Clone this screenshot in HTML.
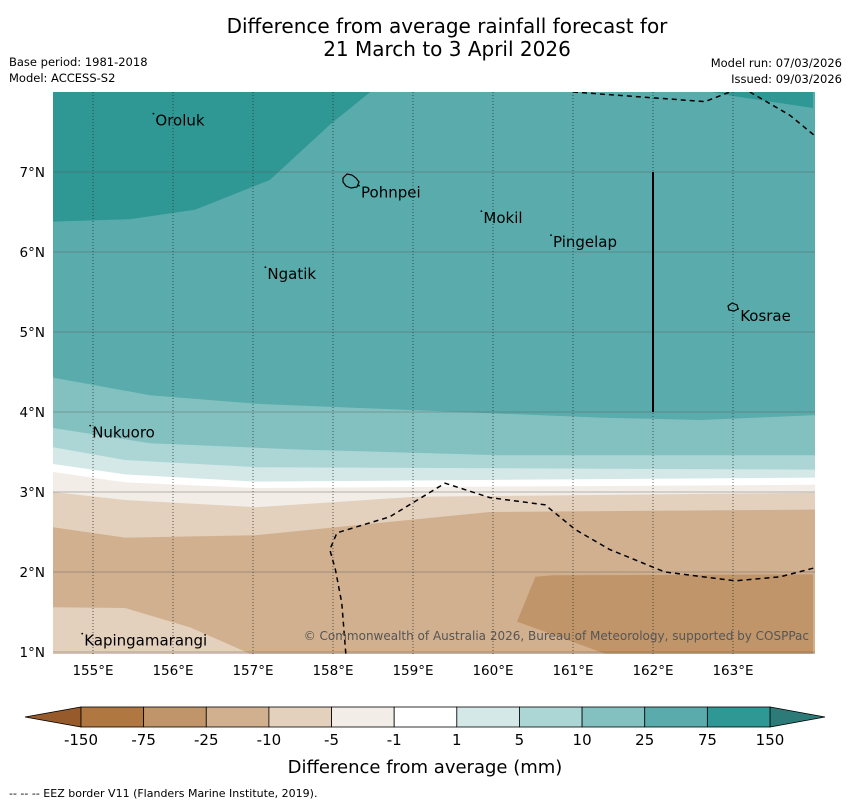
<!DOCTYPE html>
<html><head><meta charset="utf-8"><style>
html,body{margin:0;padding:0;background:#fff;width:850px;height:804px;overflow:hidden}
svg{display:block;font-family:"DejaVu Sans","Liberation Sans",sans-serif}
</style></head><body>
<svg id="chart" width="850" height="804" viewBox="0 0 850 804" xmlns="http://www.w3.org/2000/svg">
<text x="447" y="33" font-size="20" text-anchor="middle">Difference from average rainfall forecast for</text>
<text x="447" y="56" font-size="20" text-anchor="middle">21 March to 3 April 2026</text>
<text x="9" y="66" font-size="11.5">Base period: 1981-2018</text>
<text x="9" y="82" font-size="11.5">Model: ACCESS-S2</text>
<text x="842" y="67" font-size="11.5" text-anchor="end">Model run: 07/03/2026</text>
<text x="842" y="83" font-size="11.5" text-anchor="end">Issued: 09/03/2026</text>
<defs><clipPath id="mapclip"><rect x="53" y="92" width="762" height="562"/></clipPath></defs>
<g id="map" clip-path="url(#mapclip)"></g>
<g id="overlay"></g>
<g id="cbar"></g>
<text x="425" y="773" font-size="18" text-anchor="middle">Difference from average (mm)</text>
<text x="9" y="797" font-size="11">--  --  -- EEZ border V11 (Flanders Marine Institute, 2019).</text>
</svg>
<script>
const levels=["-150","-75","-25","-10","-5","-1","1","5","10","25","75","150"];
const bandColors=["#b07840","#c0956a","#d1b08f","#e3d0bd","#f2ede6","#ffffff","#d4e8e7","#acd6d5","#83c1c0","#5aabab","#309894"];
const lonTicks=[155,156,157,158,159,160,161,162,163];
const latTicks=[1,2,3,4,5,6,7];
const b1=[[154.5,4.43],[155.71,4.21],[157.09,4.1],[158.84,4.03],[161.34,3.93],[162.59,3.9],[164,3.96]];
const b2=[[154.5,3.8],[155.71,3.61],[157.59,3.53],[160.09,3.46],[164,3.46]];
const b3=[[154.5,3.56],[155.4,3.4],[157.03,3.31],[164,3.28]];
const b4=[[154.5,3.35],[155.4,3.22],[157.03,3.13],[164,3.18]];
const b5=[[154.5,3.25],[155.4,3.12],[157.03,3.05],[164,3.09]];
const b6=[[154.5,3.0],[155.4,2.9],[157.03,2.81],[159.03,2.94],[164,2.99]];
const b7=[[154.5,2.56],[155.4,2.43],[157.03,2.46],[159.96,2.75],[164,2.78]];
const lightPatch=[[154.5,1.56],[155.4,1.55],[156.21,1.31],[156.96,0.98],[154.5,0.98]];
const brownPatch=[[160.53,1.94],[160.75,1.96],[164,1.97],[164,0.98],[161.4,0.98],[160.3,1.38]];
const tealNW=[[154.5,6.38],[155.46,6.41],[156.28,6.53],[157.21,6.9],[157.96,7.59],[158.59,8.1],[154.5,8.1]];
const tealNE=[[162.2,8.1],[163.0,7.95],[164,7.8],[164,8.1]];
const eezMain=[[158.16,0.98],[158.11,1.61],[158.03,2.03],[157.96,2.28],[158.05,2.49],[158.71,2.69],[159.4,3.11],[159.96,2.93],[160.65,2.84],[161.03,2.53],[161.46,2.28],[162.15,2.0],[163.03,1.89],[163.59,1.94],[164.05,2.06]];
const eezTop1=[[161.0,8],[162.65,7.88],[162.96,8]];
const eezTop2=[[163.21,8],[163.71,7.71],[164.05,7.43]];
const places=["Oroluk","Pohnpei","Mokil","Pingelap","Ngatik","Kosrae","Nukuoro","Kapingamarangi"];
const placeLon=[155.78,158.35,159.88,160.75,157.18,163.09,154.99,154.89];
const placeLat=[7.58,6.68,6.36,6.06,5.66,5.14,3.68,1.08];
const NS="http://www.w3.org/2000/svg";
const X=lon=>53+(lon-154.5)*80;
const Y=lat=>92+(8-lat)*80;
const map=document.getElementById('map'),ov=document.getElementById('overlay'),cb=document.getElementById('cbar');
function mk(tag,attrs,parent){const e=document.createElementNS(NS,tag);for(const k in attrs)e.setAttribute(k,attrs[k]);parent.appendChild(e);return e;}
function pts(a){return a.map(p=>X(p[0]).toFixed(1)+","+Y(p[1]).toFixed(1)).join(" ");}
function below(b){return b.concat([[164.1,b[b.length-1][1]],[164.1,0.9],[154.4,0.9],[154.4,b[0][1]]]);}
let bg=mk('rect',{x:53,y:92,width:762,height:562,fill:bandColors[9]},map);


const seq=[[b1,8,'band-10-25'],[b2,7,'band-5-10'],[b3,6,'band-1-5'],[b4,5,'band-near-zero'],[b5,4,'band-minus5-minus1'],[b6,3,'band-minus10-minus5'],[b7,2,'band-minus25-minus10']];
seq.forEach(s=>{const p=mk('polygon',{points:pts(below(s[0])),fill:bandColors[s[1]]},map);

});
[[lightPatch,3,'patch-minus10-minus5'],[brownPatch,1,'patch-minus75-minus25'],[tealNW,10,'band-75-150-northwest'],[tealNE,10,'band-75-150-northeast']].forEach(s=>{
const p=mk('polygon',{points:pts(s[0]),fill:bandColors[s[1]]},map);

});
lonTicks.forEach(l=>{const g=mk('line',{x1:X(l),x2:X(l),y1:92,y2:654,stroke:"#333","stroke-width":0.8,"stroke-dasharray":"1,2"},map);


const t=mk('text',{x:X(l),y:675,"font-size":13.5,"text-anchor":"middle"},ov);t.textContent=l+"°E";

});
latTicks.forEach(l=>{const g=mk('line',{x1:53,x2:815,y1:Y(l),y2:Y(l),stroke:"#555","stroke-width":0.6,"stroke-opacity":0.8},map);


const t=mk('text',{x:45,y:Y(l)+5,"font-size":13.5,"text-anchor":"end"},ov);t.textContent=l+"°N";

});
[eezMain,eezTop1,eezTop2].forEach(e=>{const p=mk('polyline',{points:pts(e),fill:"none",stroke:"#000","stroke-width":1.5,"stroke-dasharray":"5,4"},map);

});
let vl=mk('line',{x1:X(162),x2:X(162),y1:Y(7),y2:Y(4),stroke:"#000","stroke-width":2},map);


let ph=mk('path',{d:"M343,178 l4,-4 l5,1 l4,3 l3,4 l-2,5 l-6,1 l-5,-2 l-3,-4z",fill:"none",stroke:"#000","stroke-width":1.2},map);


let ks=mk('path',{d:"M728,306 l4,-3 l5,2 l1,4 l-4,2 l-5,-1z",fill:"none",stroke:"#000","stroke-width":1.2},map);


places.forEach((n,i)=>{const t=mk('text',{x:X(placeLon[i]),y:Y(placeLat[i]),"font-size":15},ov);t.textContent=n;


const d=mk('circle',{cx:X(placeLon[i])-2,cy:Y(placeLat[i])-12,r:0.9,fill:"#000"},ov);

});
let cp=mk('text',{x:809,y:640,"font-size":12,"text-anchor":"end",fill:"#555"},ov);cp.textContent="© Commonwealth of Australia 2026, Bureau of Meteorology, supported by COSPPac";


const cx0=81,cx1=770,cy=707,ch=20,sw=(cx1-cx0)/bandColors.length;
let lt=mk('polygon',{points:`25,${cy+ch/2} ${cx0},${cy} ${cx0},${cy+ch}`,fill:"#975a2a",stroke:"#000","stroke-width":0.8},cb);


let rt=mk('polygon',{points:`825,${cy+ch/2} ${cx1},${cy} ${cx1},${cy+ch}`,fill:"#2d7b78",stroke:"#000","stroke-width":0.8},cb);


bandColors.forEach((c,i)=>{const r=mk('rect',{x:cx0+i*sw,y:cy,width:sw,height:ch,fill:c,stroke:"#000","stroke-width":0.8},cb);

});
levels.forEach((l,i)=>{const t=mk('text',{x:cx0+i*sw,y:745,"font-size":15,"text-anchor":"middle"},cb);t.textContent=l;

});
</script>
</body></html>
